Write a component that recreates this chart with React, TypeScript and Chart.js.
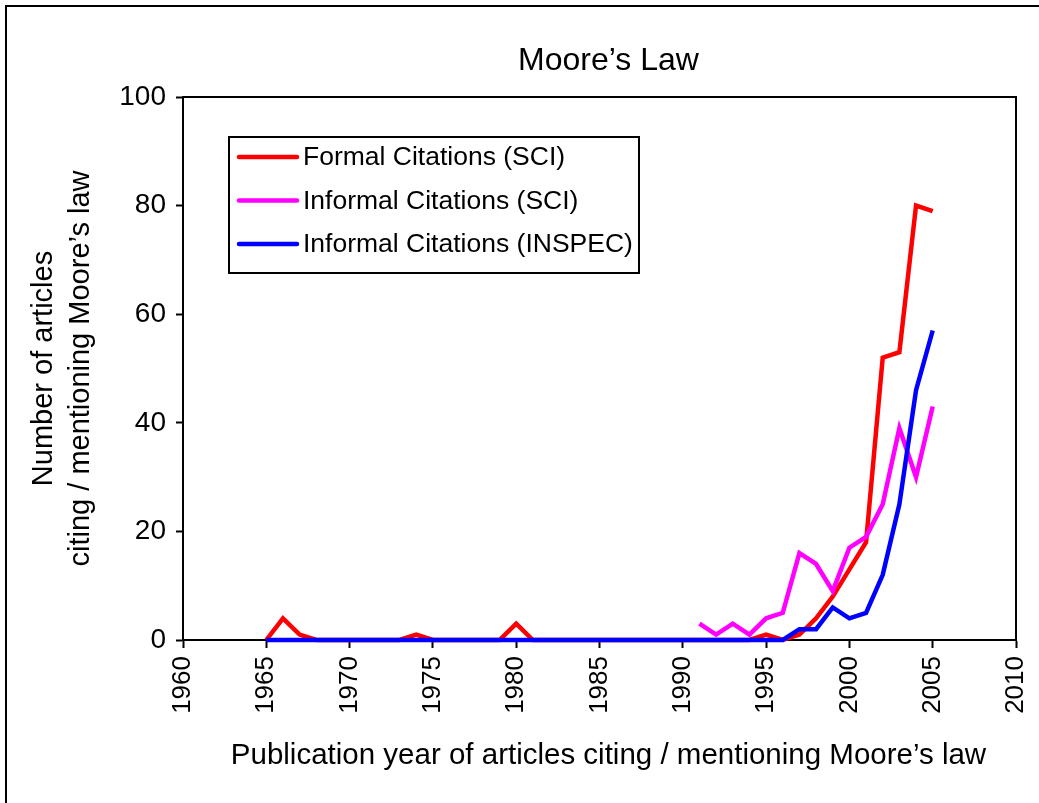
import React, { useEffect, useRef } from 'react';
import { Chart, registerables } from 'chart.js';

Chart.register(...registerables);

// ---- data ----
const chartTitle = 'Moore\u2019s Law';
const xAxisTitle = 'Publication year of articles citing / mentioning Moore\u2019s law';
const yAxisTitle = ['Number of articles', 'citing / mentioning Moore\u2019s law'];

const years = [
  1965, 1966, 1967, 1968, 1969, 1970, 1971, 1972, 1973, 1974,
  1975, 1976, 1977, 1978, 1979, 1980, 1981, 1982, 1983, 1984,
  1985, 1986, 1987, 1988, 1989, 1990, 1991, 1992, 1993, 1994,
  1995, 1996, 1997, 1998, 1999, 2000, 2001, 2002, 2003, 2004, 2005,
];

const formalSCI = [
  0, 4, 1, 0, 0, 0, 0, 0, 0, 1,
  0, 0, 0, 0, 0, 3, 0, 0, 0, 0,
  0, 0, 0, 0, 0, 0, 0, 0, 0, 0,
  1, 0, 1, 4, 8, 13, 18, 52, 53, 80, 79,
];

const informalSCI = [
  null, null, null, null, null, null, null, null, null, null,
  null, null, null, null, null, null, null, null, null, null,
  null, null, null, null, null, null, 3, 1, 3, 1,
  4, 5, 16, 14, 9, 17, 19, 25, 39, 30, 43,
];

const informalINSPEC = [
  0, 0, 0, 0, 0, 0, 0, 0, 0, 0,
  0, 0, 0, 0, 0, 0, 0, 0, 0, 0,
  0, 0, 0, 0, 0, 0, 0, 0, 0, 0,
  0, 0, 2, 2, 6, 4, 5, 12, 25, 46, 57,
];

const seriesLabels = ['Formal Citations (SCI)', 'Informal Citations (SCI)', 'Informal Citations (INSPEC)'];
const seriesColors = ['#FF0000', '#FF00FF', '#0000FF'];

const xMin = 1960;
const xMax = 2010;
const xStep = 5;
const yMin = 0;
const yMax = 100;
const yStep = 20;

const FONT = '"Liberation Sans", Arial, Helvetica, sans-serif';

function toPoints(values: (number | null)[]) {
  return years
    .map((yr, i) => ({ x: yr, y: values[i] }))
    .filter((p) => p.y !== null && p.y !== undefined);
}

const decorPlugin = {
  id: 'decor',
  beforeDatasetsDraw(chart: any) {
    const { ctx, chartArea: a } = chart;
    ctx.save();
    ctx.strokeStyle = '#000';
    ctx.lineWidth = 2;
    ctx.strokeRect(a.left, a.top, a.right - a.left, a.bottom - a.top);
    ctx.restore();
  },
  afterDraw(chart: any) {
    const { ctx, chartArea: a } = chart;
    ctx.save();
    const cx = (a.left + a.right) / 2 + 9;
    ctx.fillStyle = '#000';
    ctx.textAlign = 'center';
    ctx.textBaseline = 'middle';
    ctx.font = `32px ${FONT}`;
    ctx.fillText(chartTitle, cx, 61);
    ctx.font = `29.5px ${FONT}`;
    ctx.fillText(xAxisTitle, cx, 756);

    // legend box
    const bx = a.left + 46;
    const by = a.top + 40;
    const bw = 410;
    const bh = 136;
    ctx.fillStyle = '#fff';
    ctx.fillRect(bx, by, bw, bh);
    ctx.strokeStyle = '#000';
    ctx.lineWidth = 2;
    ctx.strokeRect(bx, by, bw, bh);
    ctx.font = `26.5px ${FONT}`;
    ctx.textAlign = 'left';
    ctx.textBaseline = 'middle';
    chart.data.datasets.forEach((ds: any, i: number) => {
      const ry = by + 20 + i * 43.5;
      ctx.strokeStyle = ds.borderColor;
      ctx.lineWidth = 4.5;
      ctx.lineCap = 'round';
      ctx.beginPath();
      ctx.moveTo(bx + 10, ry);
      ctx.lineTo(bx + 68, ry);
      ctx.stroke();
      ctx.fillStyle = '#000';
      ctx.fillText(ds.label, bx + 74, ry + 1);
    });
    ctx.restore();
  },
};

export default function App() {
  const canvasRef = useRef<HTMLCanvasElement | null>(null);

  useEffect(() => {
    const canvas = canvasRef.current;
    if (!canvas) return;
    Chart.defaults.font.family = FONT;
    Chart.defaults.color = '#000';
    const seriesValues = [formalSCI, informalSCI, informalINSPEC];
    const orders = [3, 2, 1];
    const chart = new Chart(canvas, {
      type: 'line',
      data: {
        datasets: seriesValues.map((vals, i) => ({
          label: seriesLabels[i],
          data: toPoints(vals),
          borderColor: seriesColors[i],
          backgroundColor: seriesColors[i],
          borderWidth: 4.5,
          pointRadius: 0,
          pointHoverRadius: 0,
          tension: 0,
          fill: false,
          clip: false,
          order: orders[i],
          borderJoinStyle: 'miter',
        })),
      },
      options: {
        responsive: false,
        animation: false,
        events: [],
        layout: { padding: { top: 97, right: 23, bottom: 0, left: 0 } },
        plugins: {
          legend: { display: false },
          title: { display: false },
          tooltip: { enabled: false },
        },
        scales: {
          x: {
            type: 'linear',
            min: xMin,
            max: xMax,
            afterFit: (scale: any) => {
              scale.height = 163;
              scale.paddingRight = 0;
              scale.paddingLeft = 0;
            },
            ticks: {
              stepSize: xStep,
              autoSkip: false,
              minRotation: 90,
              maxRotation: 90,
              padding: 8,
              color: '#000',
              font: { size: 26, family: FONT },
              callback: (v: any) => String(v),
            },
            grid: {
              display: true,
              drawOnChartArea: false,
              drawTicks: true,
              tickLength: 8,
              tickWidth: 2,
              tickColor: '#000',
            },
            border: { display: true, color: '#000', width: 2 },
          },
          y: {
            type: 'linear',
            min: yMin,
            max: yMax,
            afterFit: (scale: any) => {
              scale.width = 183;
            },
            ticks: {
              stepSize: yStep,
              padding: 10,
              color: '#000',
              font: { size: 28, family: FONT },
            },
            grid: {
              display: true,
              drawOnChartArea: false,
              drawTicks: true,
              tickLength: 7,
              tickWidth: 2,
              tickColor: '#000',
            },
            border: { display: true, color: '#000', width: 2 },
            title: {
              display: true,
              text: yAxisTitle,
              color: '#000',
              font: { size: 29, family: FONT, lineHeight: 1.27 },
              padding: { top: 26, bottom: 0 },
            },
          },
        },
      },
      plugins: [decorPlugin],
    } as any);
    return () => chart.destroy();
  }, []);

  return (
    <div style={{ position: 'fixed', left: 0, top: 0, width: 1039, height: 803, background: '#fff', overflow: 'hidden' }}>
      <canvas ref={canvasRef} width={1039} height={803} style={{ position: 'absolute', left: 0, top: 0, width: 1039, height: 803 }} />
      <div
        style={{
          position: 'absolute',
          left: 5,
          top: 5,
          width: 1040,
          height: 800,
          borderTop: '2px solid #000',
          borderLeft: '2px solid #000',
          pointerEvents: 'none',
        }}
      />
    </div>
  );
}
